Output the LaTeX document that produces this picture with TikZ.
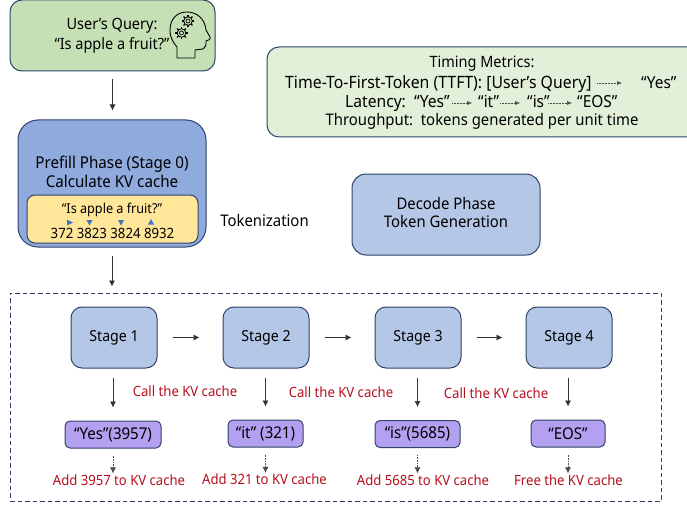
\documentclass[tikz,border=0pt]{standalone}
\usepackage{fontspec}
\setmainfont[FakeStretch=0.93]{Noto Sans}
\usetikzlibrary{arrows.meta}
\definecolor{edge}{HTML}{2F4468}
\definecolor{qgreen}{HTML}{C5E0B4}
\definecolor{tgreen}{HTML}{E2F0D9}
\definecolor{pblue}{HTML}{8FAADC}
\definecolor{sblue}{HTML}{B4C7E7}
\definecolor{yel}{HTML}{FFE699}
\definecolor{purp}{HTML}{B4A0F0}
\definecolor{redt}{HTML}{B50F1E}
\definecolor{tri}{HTML}{4472C4}
\newcommand{\fs}[1]{\fontsize{#1}{#1}\selectfont}
\tikzset{
  x=1pt,y=-1pt,
  box/.style={draw=edge,line width=1pt,rounded corners=#1,inner sep=0pt,align=center,text=black},
  box/.default=12pt,
  stagebox/.style={box=11pt,fill=sblue,minimum width=86pt,minimum height=61pt,font=\fs{15.2}},
  tokbox/.style={box=5pt,fill=purp,minimum height=27pt,font=\fs{16.2}},
  flow/.style={draw=black!80,line width=.6pt,-{Latex[length=6pt,width=6pt]}},
  dotflow/.style={draw=black!70,line width=.6pt,densely dotted,-{Latex[length=6pt,width=6pt]}},
  tinyflow/.style={draw=black!70,line width=.5pt,densely dotted,-{Latex[length=5pt,width=4pt]}},
  redlabel/.style={text=redt,font=\fs{14.1},inner sep=0pt},
  mtxt/.style={inner sep=0pt,text=black},
  gear/.style={draw=black,line width=.8pt}
}
\begin{document}
\begin{tikzpicture}
\useasboundingbox (0,0) rectangle (687,505);
\clip (0,0) rectangle (687,505);
% top boxes
\node[box=12pt,fill=qgreen,minimum width=205pt,minimum height=71pt] (query) at (112.5,35.5) {};
\node[mtxt,font=\fs{15.6},align=center] (querytext) at (112,35.5) {User’s Query:\\[3.5pt]“Is apple a fruit?”};
\node[box=20pt,fill=pblue,minimum width=188pt,minimum height=127pt] (prefill) at (112,183.5) {};
\node[mtxt,font=\fs{16.3},align=center] (prefilltext) at (112,171.5) {Prefill Phase (Stage 0)\\[2.5pt]Calculate KV cache};
\node[box=8pt,fill=yel,minimum width=171pt,minimum height=48pt] (inner) at (112.5,219) {};
\node[mtxt,font=\fs{13.6}] (q) at (112,210) {“Is apple a fruit?”};
\node[mtxt,font=\fs{14.2}] (nums) at (112.5,233) {372 3823 3824 8932};
\fill[tri] (67,219.5) -- (73,222.5) -- (67,225.5) -- cycle;
\fill[tri] (86.5,220) -- (92.5,220) -- (89.5,225.5) -- cycle;
\fill[tri] (118,220) -- (124,220) -- (121,225.5) -- cycle;
\fill[tri] (148,224.5) -- (154,224.5) -- (151,219) -- cycle;
\node[box=12pt,fill=tgreen,minimum width=440pt,minimum height=90pt] (timing) at (487,92) {};
\node[box=14pt,fill=sblue,minimum width=188pt,minimum height=81pt] (decode) at (446,214.5) {};
\node[mtxt,font=\fs{16},align=center] (decodetext) at (446,212.5) {Decode Phase\\[2.5pt]Token Generation};
\node[mtxt,font=\fs{16}] (tokn) at (264.5,220) {Tokenization};
% timing text
\node[mtxt,font=\fs{15.6}] (t1) at (482,64) {Timing Metrics:};
\node[mtxt,font=\fs{17},anchor=base west] (t2a) at (285,89) {Time-To-First-Token (TTFT): [User’s Query]};
\node[mtxt,font=\fs{16.6},anchor=base west] (t2b) at (641,89) {“Yes”};
\node[mtxt,font=\fs{16.8},anchor=base west] (t3a) at (345,108) {Latency:\ \ “Yes”};
\node[mtxt,font=\fs{16.6},anchor=base west] (t3b) at (478,108) {“it”};
\node[mtxt,font=\fs{16.6},anchor=base west] (t3c) at (527,108) {“is”};
\node[mtxt,font=\fs{16.6},anchor=base west] (t3d) at (577,108) {“EOS”};
\node[mtxt,font=\fs{16}] (t4) at (482,121) {Throughput:\ \ tokens generated per unit time};
\draw[tinyflow] (597,83) -- (622,83);
\draw[tinyflow] (452,103) -- (472,103);
\draw[tinyflow] (500,103) -- (520,103);
\draw[tinyflow] (548,103) -- (572,103);
% frame
\node[draw=edge,line width=1pt,dash pattern=on 4.5pt off 3pt,minimum width=651pt,minimum height=208pt,inner sep=0pt] (frame) at (335.5,397) {};
% stages
\node[stagebox] (s1) at (114,337.5) {Stage 1};
\node[stagebox] (s2) at (266,337.5) {Stage 2};
\node[stagebox] (s3) at (418,337.5) {Stage 3};
\node[stagebox] (s4) at (569,337.5) {Stage 4};
% tokens
\node[tokbox,minimum width=96pt] (k1) at (113,434.5) {“Yes”(3957)};
\node[tokbox,minimum width=75pt] (k2) at (265.5,433.5) {“it” (321)};
\node[tokbox,minimum width=85pt] (k3) at (417.5,434) {“is”(5685)};
\node[tokbox,minimum width=74pt] (k4) at (568,433.5) {“EOS”};
% red labels
\node[redlabel] (c1) at (185,391) {Call the KV cache};
\node[redlabel] (c2) at (341,392.5) {Call the KV cache};
\node[redlabel] (c3) at (496,393) {Call the KV cache};
\node[redlabel] (a1) at (119,480) {Add 3957 to KV cache};
\node[redlabel] (a2) at (264.5,479.5) {Add 321 to KV cache};
\node[redlabel] (a3) at (423,480) {Add 5685 to KV cache};
\node[redlabel] (a4) at (568.5,480) {Free the KV cache};
% connectors
\draw[flow,shorten <=8pt,shorten >=9pt] (query.south) -- (prefill.north -| query.south);
\draw[flow,shorten <=8pt,shorten >=6pt] (prefill.south) -- (prefill.south |- frame.north);
\foreach \a/\b in {s1/s2,s2/s3,s3/s4}
  \draw[flow,shorten <=15pt,shorten >=23pt] (\a.east) -- (\b.west);
\foreach \a/\b in {s1/k1,s2/k2,s3/k3,s4/k4}{
  \draw[flow,shorten <=9pt,shorten >=13pt] (\a.south -| \b.north) -- (\b.north);
}
\foreach \a/\b in {k1/a1,k2/a2,k3/a3,k4/a4}{
  \draw[dotflow,shorten <=7pt,shorten >=1pt] (\a.south) -- (\a.south |- \b.north);
}
% head icon
\draw[line width=.9pt,line join=round,fill=none,black]
 (177,58) -- (195,58) -- (195,50) -- (203,49)
 .. controls (206,48) and (206,45) .. (206,41)
 .. controls (208,41) and (211,39) .. (210,37)
 -- (206,30)
 .. controls (205,19) and (197,12) .. (187,12)
 .. controls (176,12) and (170,20) .. (170,30)
 .. controls (170,38) and (173,42) .. (177,47) -- cycle;
\foreach \cx/\cy in {188/21, 181.5/33}{
  \draw[gear] (\cx,\cy) circle (4.3);
  \draw[gear,line width=.7pt] (\cx,\cy) circle (2);
  \foreach \ang in {0,45,...,315}
    \draw[gear,line width=1.4pt] ({\cx+4.3*cos(\ang)},{\cy+4.3*sin(\ang)}) -- ({\cx+6.2*cos(\ang)},{\cy+6.2*sin(\ang)});
}
\end{tikzpicture}
\end{document}
